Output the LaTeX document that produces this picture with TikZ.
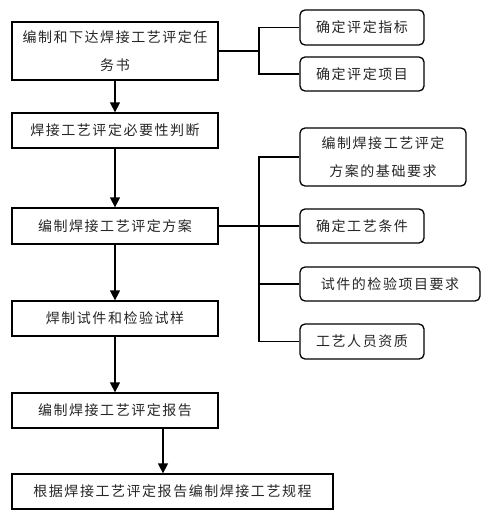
\documentclass[tikz,border=0pt]{standalone}
\usepackage{fontspec}
\setmainfont{Noto Sans CJK SC}[LetterSpace=11]
\usetikzlibrary{arrows.meta}
\begin{document}
\begin{tikzpicture}[x=1pt,y=-1pt,
  box/.style={draw,line width=1.3pt,inner sep=0pt,align=center,font=\fontsize{14pt}{28pt}\selectfont,text=black!85},
  rbox/.style={box,rounded corners=5pt},
  conn/.style={line width=1.4pt},
  arr/.style={line width=1.4pt,-{Triangle[length=10pt,width=10pt]}}]
\useasboundingbox (0,0) rectangle (488,527);
\node[box,minimum width=206pt,minimum height=58pt] (b1) at (115,51) {编制和下达焊接工艺评定任\\务书};
\node[box,minimum width=206pt,minimum height=35pt] (b2) at (115,130.5) {焊接工艺评定必要性判断};
\node[box,minimum width=206pt,minimum height=36pt] (b3) at (115,226) {编制焊接工艺评定方案};
\node[box,minimum width=206pt,minimum height=35pt] (b4) at (115,318.5) {焊制试件和检验试样};
\node[box,minimum width=206pt,minimum height=35pt] (b5) at (115,410.5) {编制焊接工艺评定报告};
\node[box,minimum width=321pt,minimum height=35pt] (b6) at (172.5,491.5) {根据焊接工艺评定报告编制焊接工艺规程};
\node[rbox,minimum width=124pt,minimum height=35pt] (ra) at (362,27.5) {确定评定指标};
\node[rbox,minimum width=124pt,minimum height=34pt] (rb) at (362,74) {确定评定项目};
\node[rbox,minimum width=166pt,minimum height=58pt] (rc) at (383,157) {编制焊接工艺评定\\方案的基础要求};
\node[rbox,minimum width=124pt,minimum height=34pt] (rd) at (362,226) {确定工艺条件};
\node[rbox,minimum width=180pt,minimum height=34pt] (re) at (390,284) {试件的检验项目要求};
\node[rbox,minimum width=124pt,minimum height=35pt] (rf) at (362,341.5) {工艺人员资质};
\coordinate (j1) at (259,51);
\coordinate (j2) at (259,226);
\coordinate (x6) at (163,0);
\draw[conn] (b1.east) -- (j1);
\draw[conn] (ra.west) -| (j1);
\draw[conn] (rb.west) -| (j1);
\draw[conn] (b3.east) -- (rd.west);
\draw[conn] (rc.west) -| (j2);
\draw[conn] (re.west) -| (j2);
\draw[conn] (rf.west) -| (j2);
\draw[arr] (b1) -- (b2);
\draw[arr] (b2) -- (b3);
\draw[arr] (b3) -- (b4);
\draw[arr] (b4) -- (b5);
\draw[arr] (b5.south -| x6) -- (b6.north -| x6);
\end{tikzpicture}
\end{document}
